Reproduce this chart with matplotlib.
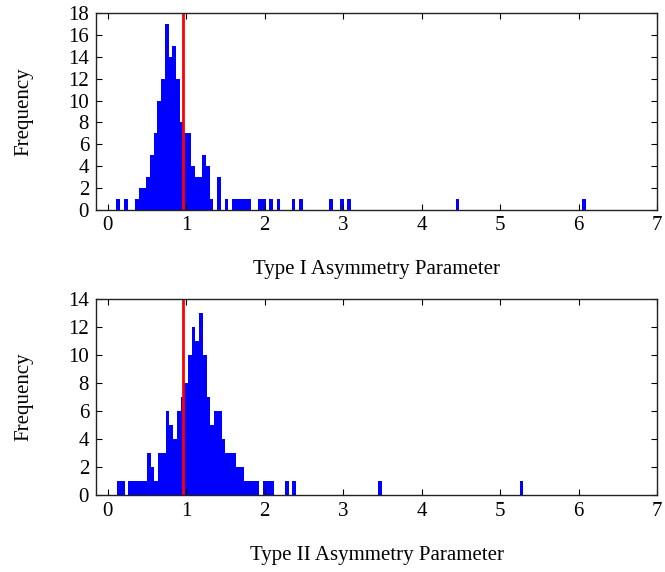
import numpy as np
import matplotlib
matplotlib.use('Agg')
import matplotlib.pyplot as plt

plt.rcParams['font.family'] = ['Liberation Serif', 'DejaVu Serif']

# --------------------------------
# DATA (histogram counts per bin)
# --------------------------------
bin_width = 0.0475
ref_value = 0.96   # red reference line

type1_start = 0.11
type1_counts = [1, 0, 1, 0, 0, 1, 2, 2, 3, 5,
                7, 10, 12, 17, 14, 15, 12, 8, 7, 7,
                4, 3, 3, 5, 4, 1, 0, 3, 0, 1,
                0, 1, 1, 1, 1, 1, 0, 0, 1, 1,
                0, 1, 0, 1, 0, 0, 0, 1, 0, 1,
                0, 0, 0, 0, 0, 0, 0, 1, 0, 0,
                1, 0, 1, 0, 0, 0, 0, 0, 0, 0,
                0, 0, 0, 0, 0, 0, 0, 0, 0, 0,
                0, 0, 0, 0, 0, 0, 0, 0, 0, 0,
                0, 1, 0, 0, 0, 0, 0, 0, 0, 0,
                0, 0, 0, 0, 0, 0, 0, 0, 0, 0,
                0, 0, 0, 0, 0, 0, 0, 0, 0, 0,
                0, 0, 0, 0, 0, 1]

type2_start = 0.12
type2_counts = [1, 1, 0, 1, 1, 1, 1, 1, 3, 2,
                1, 3, 3, 6, 5, 4, 6, 7, 8, 10,
                12, 11, 13, 10, 7, 5, 6, 6, 4, 3,
                3, 3, 2, 2, 1, 1, 1, 1, 0, 1,
                1, 1, 0, 0, 0, 1, 0, 1, 0, 0,
                0, 0, 0, 0, 0, 0, 0, 0, 0, 0,
                0, 0, 0, 0, 0, 0, 0, 0, 0, 0,
                1, 0, 0, 0, 0, 0, 0, 0, 0, 0,
                0, 0, 0, 0, 0, 0, 0, 0, 0, 0,
                0, 0, 0, 0, 0, 0, 0, 0, 0, 0,
                0, 0, 0, 0, 0, 0, 0, 0, 1]

panels = [
    (type1_start, type1_counts, 'Type I Asymmetry Parameter', 18),
    (type2_start, type2_counts, 'Type II Asymmetry Parameter', 14),
]

# --------------------------------
# PLOTTING
# --------------------------------
fig = plt.figure(figsize=(6.65, 5.72), dpi=100)
axes_pos = [[0.1444, 0.6337, 0.8436, 0.3427],
            [0.1444, 0.1351, 0.8436, 0.3427]]

for pos, (start, counts, xlabel, ymax) in zip(axes_pos, panels):
    ax = fig.add_axes(pos)
    left_edges = start + bin_width * np.arange(len(counts))
    ax.bar(left_edges, counts, width=bin_width, align='edge',
           color='blue', edgecolor='none', linewidth=0)
    ax.axvline(ref_value, color='red', lw=2)

    ax.set_xlim(-0.15, 7)
    ax.set_ylim(0, ymax)
    ax.set_xticks(range(0, 8))
    ax.set_yticks(range(0, ymax + 1, 2))
    ax.tick_params(direction='in', top=True, right=True, length=4,
                   width=0.8, labelsize=15, pad=5)
    for sp in ax.spines.values():
        sp.set_linewidth(1.0)
        sp.set_color('#222222')
    ax.set_xlabel(xlabel, fontsize=15, labelpad=18)
    ax.set_ylabel('Frequency', fontsize=15, labelpad=25)

fig.savefig('out.png', dpi=100)
